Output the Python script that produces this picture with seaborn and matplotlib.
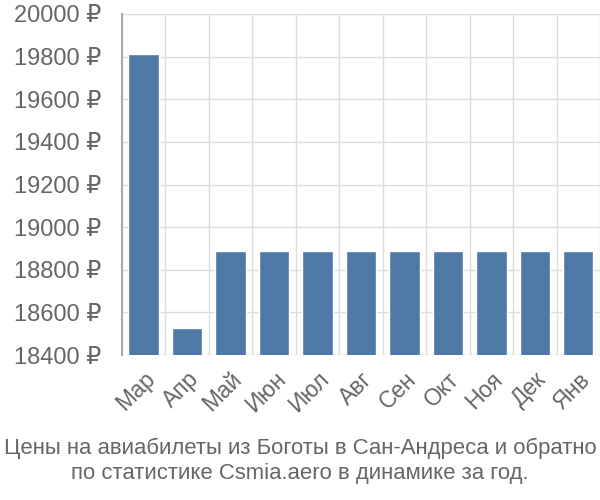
import matplotlib
matplotlib.use("Agg")
import matplotlib.pyplot as plt
import seaborn as sns
import pandas as pd
import numpy as np

months = ["Мар", "Апр", "Май", "Июн", "Июл", "Авг", "Сен", "Окт", "Ноя", "Дек", "Янв"]
prices = [19810, 18527, 18887, 18887, 18887, 18887, 18887, 18887, 18887, 18887, 18887]
yticks = [18400, 18600, 18800, 19000, 19200, 19400, 19600, 19800, 20000]
title = "Цены на авиабилеты из Боготы в Сан-Андреса и обратно\nпо статистике Csmia.aero в динамике за год."

sns.set_theme(style="white")
plt.rcParams['font.family'] = ['Liberation Sans', 'DejaVu Sans']

df = pd.DataFrame({"month": months, "price": prices})

fig = plt.figure(figsize=(6, 5), dpi=100)
ax = fig.add_axes([0.203, 0.29, 0.797, 0.682])

sns.barplot(data=df, x="month", y="price", color="#4e79a7", width=0.7,
            saturation=1, ax=ax, zorder=3)

ax.set_ylim(18400, 20000)
ax.set_xlim(-0.5, len(months) - 0.5)
ax.set_yticks(yticks)
ax.set_yticklabels([f"{v} ₽" for v in yticks], fontsize=17, color="#666666")
ax.set_xticks(range(len(months)))
ax.set_xticklabels(months, rotation=45, ha="right", rotation_mode="anchor",
                   fontsize=16.5, color="#666666")
ax.set_xticks(np.arange(-0.5, len(months), 1), minor=True)

ax.tick_params(axis="x", which="major", length=0, pad=9)
ax.tick_params(axis="x", which="minor", length=15, color="#dddddd", width=1)
ax.tick_params(axis="y", which="major", length=12, color="#dddddd", width=1, pad=3)

ax.grid(True, axis="y", which="major", color="#dddddd", linewidth=1, zorder=0)
ax.grid(True, axis="x", which="minor", color="#dddddd", linewidth=1, zorder=0)
ax.set_axisbelow(True)

for s in ["top", "right", "bottom"]:
    ax.spines[s].set_visible(False)
ax.spines["left"].set_color("#aaaaaa")
ax.spines["left"].set_linewidth(1.5)
ax.spines["left"].set_zorder(4)

ax.set_xlabel("")
ax.set_ylabel("")

fig.text(0.5, 0.078, title, ha="center", va="center", fontsize=15.9,
         color="#666666", linespacing=1.25)

fig.savefig("out.png", dpi=100)
